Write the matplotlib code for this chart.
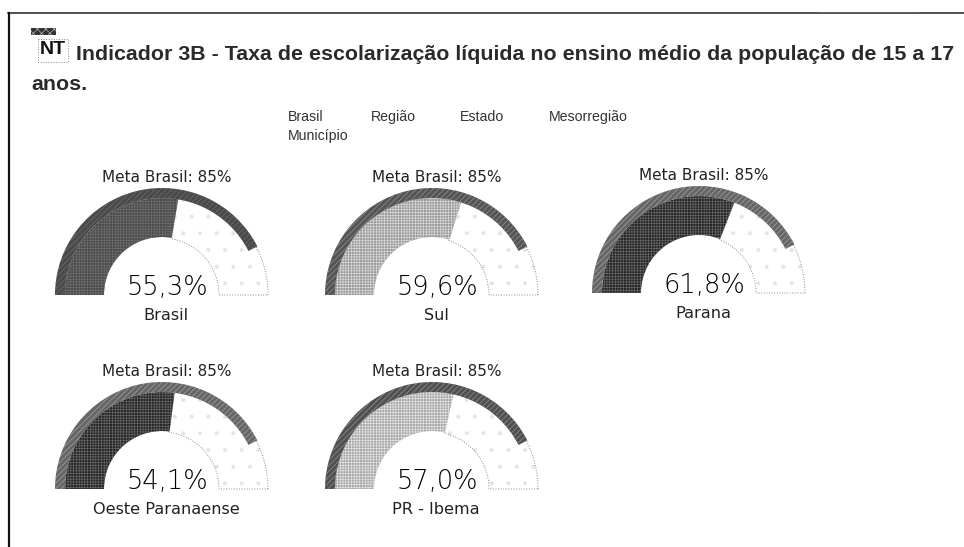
import matplotlib
matplotlib.use('Agg')
import matplotlib.pyplot as plt
from matplotlib.patches import Wedge, Rectangle

# Data
regions = ['Brasil', 'Sul', 'Parana', 'Oeste Paranaense', 'PR - Ibema']
values = [55.3, 59.6, 61.8, 54.1, 57.0]
value_labels = ['55,3%', '59,6%', '61,8%', '54,1%', '57,0%']
meta = 85
meta_label = 'Meta Brasil: 85%'
menu_items = ['Brasil', 'Região', 'Estado', 'Mesorregião', 'Município']

# Looks of each gauge (the scan dithers the colours, hatches stand in for that)
fill_colors = ['#4a4a4a', '#9a9a9a', '#262626', '#262626', '#a8a8a8']
fill_hatch = ['#707070', '#dcdcdc', '#6a6a6a', '#6a6a6a', '#e6e6e6']
arc_colors = ['#4a4a4a', '#555555', '#666666', '#666666', '#505050']
arc_hatch = ['#707070', '#999999', '#aaaaaa', '#aaaaaa', '#999999']
centers = [(162, 295), (432, 295), (699, 293), (162, 489), (432, 489)]

W, H = 964, 547
R = 107  # outer radius in pixels

plt.rcParams['hatch.linewidth'] = 0.45

fig = plt.figure(figsize=(W / 100, H / 100), dpi=100)


def put_text(x, y, s, **kw):
    # x, y in pixels from the top left
    fig.text(x / W, 1 - y / H, s, **kw)


# Frame of the scanned page
bg = fig.add_axes([0, 0, 1, 1])
bg.set_xlim(0, W)
bg.set_ylim(H, 0)
bg.axis('off')
bg.plot([8, 964], [13, 13], color='#222222', lw=1.1)
bg.plot([820, 917], [11.5, 11.5], color='#777777', lw=0.7, ls=':')
bg.plot([9, 9], [13, 547], color='#111111', lw=1.6)

# NT icon
bg.add_patch(Rectangle((31, 28), 25, 7, fc='#333333', ec='#bbbbbb', lw=0, hatch='xxxx'))
bg.add_patch(Rectangle((38, 39), 30, 23, fill=False, ec='#888888', ls=':', lw=0.7))
put_text(53, 50, 'NT', family='Liberation Sans', fontsize=14, fontweight='bold',
         ha='center', va='center', color='#111111')

# Title
title_kw = dict(family='Liberation Sans', fontsize=15.4, fontweight='bold', color='#2a2a2a', va='center')
put_text(76, 54, 'Indicador 3B - Taxa de escolarização líquida no ensino médio da população de 15 a 17', **title_kw)
put_text(31, 84, 'anos.', **title_kw)

# Menu
menu_kw = dict(family='Liberation Sans', fontsize=10.2, color='#333333', va='center')
put_text(288, 117, menu_items[0], **menu_kw)
put_text(371, 117, menu_items[1], **menu_kw)
put_text(460, 117, menu_items[2], **menu_kw)
put_text(549, 117, menu_items[3], **menu_kw)
put_text(288, 136, menu_items[4], **menu_kw)

# Gauges
for i in range(len(regions)):
    cx, cy = centers[i]
    ax = fig.add_axes([(cx - R - 2) / W, 1 - (cy + 2) / H, (2 * R + 4) / W, (R + 4) / H])
    ax.set_xlim(-R - 2, R + 2)
    ax.set_ylim(-2, R + 2)
    ax.set_aspect('equal')
    ax.axis('off')

    value_angle = 180 * (1 - values[i] / 100)
    meta_angle = 180 * (1 - meta / 100)

    # empty part, dotted outline and a few specks
    ax.add_patch(Wedge((0, 0), R - 1, 0, value_angle, width=R - 58, fc='white',
                       ec='#e4e4e4', lw=0, hatch='.'))
    ax.add_patch(Wedge((0, 0), R - 1, 0, value_angle, width=R - 58, fill=False,
                       ec='#888888', ls=':', lw=0.7))
    # value band
    ax.add_patch(Wedge((0, 0), R - 10, value_angle, 180, width=R - 68, fc=fill_colors[i],
                       ec=fill_hatch[i], lw=0, hatch='++++++'))
    # meta arc on the outside
    ax.add_patch(Wedge((0, 0), R, meta_angle, 180, width=10, fc=arc_colors[i],
                       ec=arc_hatch[i], lw=0, hatch='//////'))

    put_text(cx + 5, cy - 118, meta_label, family='DejaVu Sans', fontsize=11,
             ha='center', va='center', color='#222222')
    put_text(cx + 5, cy - 7, value_labels[i], family='DejaVu Sans', fontsize=18.5,
             fontweight='light', ha='center', va='center', color='#000000')
    put_text(cx + 4, cy + 20, regions[i], family='DejaVu Sans', fontsize=11.6,
             ha='center', va='center', color='#222222')

fig.savefig('out.png', dpi=100)
